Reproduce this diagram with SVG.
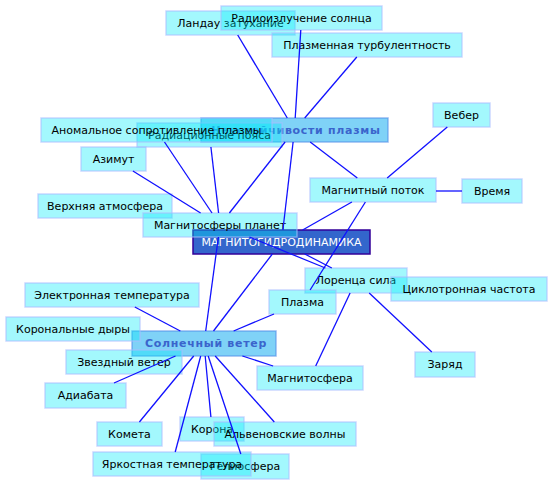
<svg xmlns="http://www.w3.org/2000/svg" width="553" height="485" viewBox="0 0 553 485">
<style>
.n rect{fill:rgb(0,235,250);fill-opacity:0.36;stroke:rgb(170,190,255);stroke-opacity:0.6;stroke-width:1.5}
.n text{font-family:"DejaVu Sans",sans-serif;font-size:11px;fill:#000;text-anchor:middle;dominant-baseline:central}
.h rect{fill:rgb(0,165,240);fill-opacity:0.5;stroke:rgb(80,140,230);stroke-opacity:0.6;stroke-width:1.5}
.h text{font-family:"DejaVu Sans",sans-serif;font-size:11px;font-weight:bold;letter-spacing:0.7px;fill:#3a64cc;text-anchor:middle;dominant-baseline:central}
.m rect{fill:#3366cc;stroke:#330099;stroke-width:1.5}
.m text{font-family:"DejaVu Sans",sans-serif;font-size:11px;fill:#fff;text-anchor:middle;dominant-baseline:central}
.e line{stroke:#1010ff;stroke-width:1.3}
</style>
<rect width="553" height="485" fill="#fff"/>
<g id="mhd" class="m"><rect x="193" y="230" width="177" height="24"/><text x="281.5" y="242">МАГНИТОГИДРОДИНАМИКА</text></g>
<g id="solar" class="h"><rect x="132" y="331" width="144" height="25"/><text x="206" y="343.5">Солнечный ветер</text></g>
<g id="neust" class="h"><rect x="201" y="118" width="187" height="24"/><text x="296" y="130">Неустойчивости плазмы</text></g>
<g id="landau" class="n"><rect x="166" y="11" width="129" height="24"/><text x="230.5" y="23">Ландау затухание</text></g>
<g id="radio" class="n"><rect x="221" y="6" width="161" height="24"/><text x="301.5" y="18">Радиоизлучение солнца</text></g>
<g id="turb" class="n"><rect x="272" y="33" width="190" height="24"/><text x="367" y="45">Плазменная турбулентность</text></g>
<g id="rad" class="n"><rect x="137" y="123" width="145" height="24"/><text x="209.5" y="135">Радиационные пояса</text></g>
<g id="anom" class="n"><rect x="41" y="118" width="231" height="24"/><text x="156.5" y="130">Аномальное сопротивление плазмы</text></g>
<g id="azimut" class="n"><rect x="81" y="147" width="65" height="24"/><text x="113.5" y="159">Азимут</text></g>
<g id="verh" class="n"><rect x="38" y="194" width="134" height="24"/><text x="105" y="206">Верхняя атмосфера</text></g>
<g id="mplanet" class="n"><rect x="143" y="213" width="154" height="24"/><text x="220" y="225">Магнитосферы планет</text></g>
<g id="veber" class="n"><rect x="433" y="103" width="57" height="24"/><text x="461.5" y="115">Вебер</text></g>
<g id="mflux" class="n"><rect x="310" y="178" width="126" height="24"/><text x="373" y="190">Магнитный поток</text></g>
<g id="time" class="n"><rect x="462" y="179" width="60" height="24"/><text x="492" y="191">Время</text></g>
<g id="lorentz" class="n"><rect x="305" y="268" width="102" height="25"/><text x="356" y="280.5">Лоренца сила</text></g>
<g id="cyclo" class="n"><rect x="391" y="277" width="156" height="24"/><text x="469" y="289">Циклотронная частота</text></g>
<g id="plazma" class="n"><rect x="269" y="290" width="67" height="24"/><text x="302.5" y="302">Плазма</text></g>
<g id="zaryad" class="n"><rect x="415" y="352" width="60" height="25"/><text x="445" y="364.5">Заряд</text></g>
<g id="magsf" class="n"><rect x="257" y="366" width="106" height="24"/><text x="310" y="378">Магнитосфера</text></g>
<g id="elec" class="n"><rect x="25" y="283" width="174" height="24"/><text x="112" y="295">Электронная температура</text></g>
<g id="korondyry" class="n"><rect x="6" y="317" width="134" height="24"/><text x="73" y="329">Корональные дыры</text></g>
<g id="star" class="n"><rect x="66" y="350" width="116" height="24"/><text x="124" y="362">Звездный ветер</text></g>
<g id="adiab" class="n"><rect x="45" y="383" width="81" height="25"/><text x="85.5" y="395.5">Адиабата</text></g>
<g id="kometa" class="n"><rect x="97" y="422" width="65" height="24"/><text x="129.5" y="434">Комета</text></g>
<g id="korona" class="n"><rect x="180" y="417" width="64" height="24"/><text x="212" y="429">Корона</text></g>
<g id="alfven" class="n"><rect x="214" y="422" width="142" height="24"/><text x="285" y="434">Альвеновские волны</text></g>
<g id="helio" class="n"><rect x="201" y="454" width="88" height="25"/><text x="245" y="466.5">Гелиосфера</text></g>
<g id="yark" class="n"><rect x="93" y="452" width="158" height="24"/><text x="172" y="464">Яркостная температура</text></g>
<g id="connectors" class="e">
<line x1="287.3" y1="118" x2="237.7" y2="35"/>
<line x1="295.2" y1="118" x2="300.8" y2="30"/>
<line x1="304.7" y1="118" x2="356.8" y2="57"/>
<line x1="310.2" y1="142" x2="357.3" y2="178"/>
<line x1="293.1" y1="142" x2="282.9" y2="230"/>
<line x1="285.1" y1="142" x2="229.4" y2="213"/>
<line x1="164.5" y1="142" x2="212" y2="213"/>
<line x1="210.9" y1="147" x2="218.6" y2="213"/>
<line x1="132.9" y1="171" x2="200.6" y2="213"/>
<line x1="218.4" y1="237" x2="205.7" y2="331"/>
<line x1="249.4" y1="237" x2="325.4" y2="268"/>
<line x1="302.6" y1="230" x2="351.9" y2="202"/>
<line x1="272.3" y1="254" x2="213.5" y2="331"/>
<line x1="304.7" y1="254" x2="331.8" y2="268"/>
<line x1="387.2" y1="178" x2="447.3" y2="127"/>
<line x1="436" y1="191" x2="462" y2="191"/>
<line x1="365.4" y1="202" x2="310.1" y2="290"/>
<line x1="369.2" y1="293" x2="431.8" y2="352"/>
<line x1="350.1" y1="293" x2="315.7" y2="366"/>
<line x1="180.3" y1="331" x2="134.8" y2="307"/>
<line x1="175.5" y1="356" x2="114" y2="383"/>
<line x1="193.7" y1="356" x2="139.4" y2="422"/>
<line x1="200.7" y1="356" x2="175.2" y2="452"/>
<line x1="205.2" y1="356" x2="210.9" y2="417"/>
<line x1="208.2" y1="356" x2="240.8" y2="454"/>
<line x1="215.2" y1="356" x2="274.3" y2="422"/>
<line x1="242.4" y1="356" x2="273.1" y2="366"/>
<line x1="233.6" y1="331" x2="274" y2="314"/>
</g>
</svg>
